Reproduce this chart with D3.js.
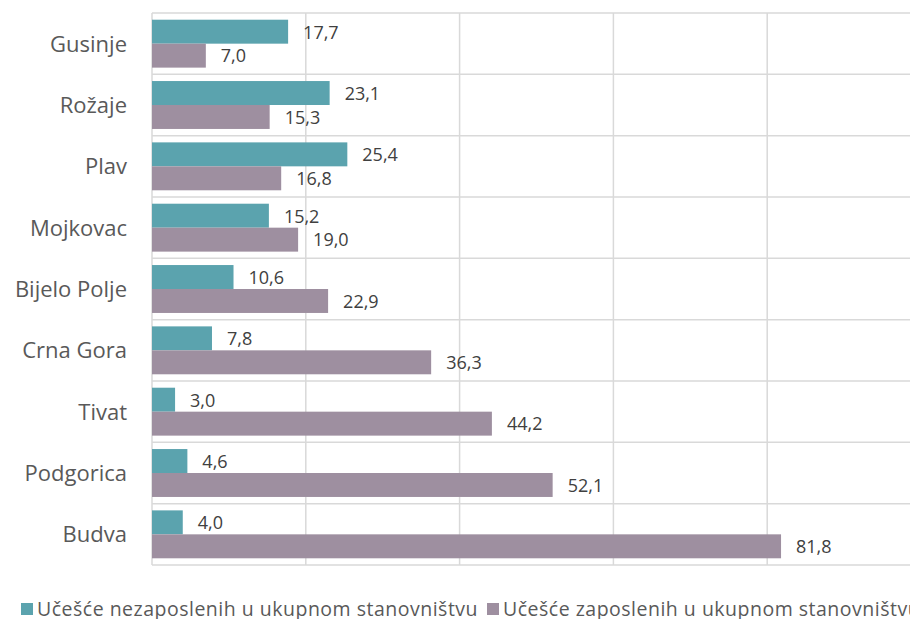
<!DOCTYPE html>
<html>
<meta charset="utf-8">
<head>
  <script src="https://d3js.org/d3.v7.min.js"></script>
  <style>
    body { margin: 0; background: #fff; }
    .grid line { stroke: #d9d9d9; stroke-width: 1.5px; }
    .cat { fill: #595959; font-family: "Open Sans", "Noto Sans", sans-serif; font-size: 22px; }
    .val { fill: #404040; font-family: "Open Sans", "Noto Sans", sans-serif; font-size: 18px; }
    .leg { fill: #595959; font-family: "Open Sans", "Noto Sans", sans-serif; font-size: 19.5px; letter-spacing: 0.5px; }
  </style>
</head>
<body>
<div id="chart"></div>
<script>
  "use strict"

  var width = 910,
      height = 619,
      margin = {top: 13, left: 152, bottom: 54};

  var data = [
    {name: "Gusinje", nez: 17.7, zap: 7.0},
    {name: "Rožaje", nez: 23.1, zap: 15.3},
    {name: "Plav", nez: 25.4, zap: 16.8},
    {name: "Mojkovac", nez: 15.2, zap: 19.0},
    {name: "Bijelo Polje", nez: 10.6, zap: 22.9},
    {name: "Crna Gora", nez: 7.8, zap: 36.3},
    {name: "Tivat", nez: 3.0, zap: 44.2},
    {name: "Podgorica", nez: 4.6, zap: 52.1},
    {name: "Budva", nez: 4.0, zap: 81.8}
  ];

  var series = [
    {key: "nez", label: "Učešće nezaposlenih u ukupnom stanovništvu", color: "#5ba3ae"},
    {key: "zap", label: "Učešće zaposlenih u ukupnom stanovništvu", color: "#9e8fa0"}
  ];

  var svg = d3.select("#chart")
      .append("svg")
      .attr("width", width)
      .attr("height", height);

  var x = d3.scaleLinear()
      .domain([0, 100])
      .range([margin.left, 921]);

  var y = d3.scaleBand()
      .domain(data.map(function(d) { return d.name; }))
      .range([margin.top, height - margin.bottom]);

  var inner = d3.scaleBand()
      .domain(series.map(function(s) { return s.key; }))
      .range([0, y.bandwidth()])
      .paddingOuter(0.28)
      .paddingInner(0);

  var grid = svg.append("g").attr("class", "grid");

  grid.selectAll("line.v")
      .data(x.ticks(5))
    .enter().append("line")
      .attr("x1", function(d) { return x(d); })
      .attr("x2", function(d) { return x(d); })
      .attr("y1", margin.top)
      .attr("y2", height - margin.bottom);

  var bounds = data.map(function(d) { return y(d.name); }).concat([height - margin.bottom]);
  grid.selectAll("line.h")
      .data(bounds)
    .enter().append("line")
      .attr("x1", margin.left)
      .attr("x2", width)
      .attr("y1", function(d) { return d; })
      .attr("y2", function(d) { return d; });

  var groups = svg.append("g")
    .selectAll("g")
      .data(data)
    .enter().append("g")
      .attr("transform", function(d) { return "translate(0," + y(d.name) + ")"; });

  series.forEach(function(s) {
    groups.append("rect")
        .attr("x", x(0))
        .attr("y", inner(s.key))
        .attr("width", function(d) { return x(d[s.key]) - x(0); })
        .attr("height", inner.bandwidth())
        .attr("fill", s.color);

    groups.append("text")
        .attr("class", "val")
        .attr("x", function(d) { return x(d[s.key]) + 15; })
        .attr("y", inner(s.key) + inner.bandwidth() / 2)
        .attr("dy", "0.38em")
        .text(function(d) { return d3.format(".1f")(d[s.key]).replace(".", ","); });
  });

  svg.append("g")
    .selectAll("text")
      .data(data)
    .enter().append("text")
      .attr("class", "cat")
      .attr("x", 127)
      .attr("y", function(d) { return y(d.name) + y.bandwidth() / 2; })
      .attr("dy", "0.36em")
      .attr("text-anchor", "end")
      .text(function(d) { return d.name; });

  var legX = [21, 487];
  var legend = svg.append("g")
    .selectAll("g")
      .data(series)
    .enter().append("g")
      .attr("transform", function(d, i) { return "translate(" + legX[i] + ",609)"; });

  legend.append("rect")
      .attr("x", 0)
      .attr("y", -6)
      .attr("width", 12)
      .attr("height", 12)
      .attr("fill", function(d) { return d.color; });

  legend.append("text")
      .attr("class", "leg")
      .attr("x", 16)
      .attr("dy", "0.36em")
      .text(function(d) { return d.label; });
</script>
</body>
</html>
